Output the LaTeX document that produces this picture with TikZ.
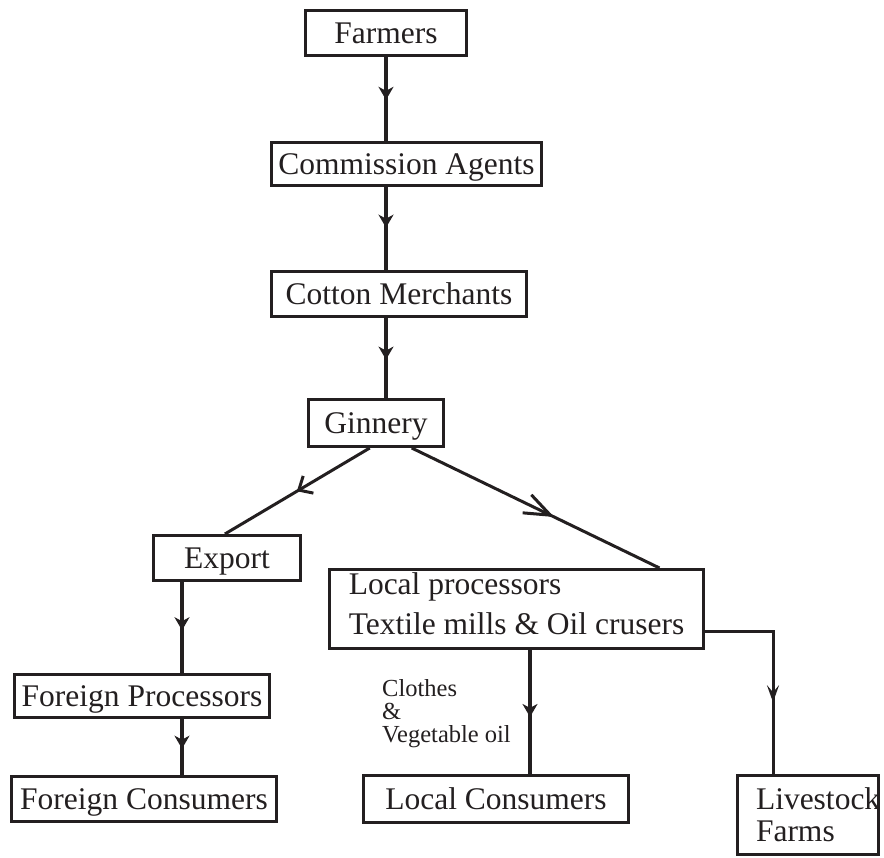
\documentclass[tikz,border=0pt]{standalone}
\usepackage{fontspec}
\setmainfont{Liberation Serif}
\usetikzlibrary{arrows.meta,decorations.markings}
\definecolor{ink}{HTML}{231F20}
\begin{document}
\begin{tikzpicture}[x=1pt,y=-1pt,
  box/.style={draw=ink, line width=3pt, rectangle, inner sep=0pt, text=ink,
              font=\fontsize{31.5}{40}\selectfont},
  onebox/.style={box, text height=21pt, text depth=0pt},
  flow/.style={draw=ink, line width=3.8pt},
  thinflow/.style={draw=ink, line width=3pt},
  tipat/.style={postaction={decorate}, decoration={markings,
      mark=at position #1 with {\arrow[ink]{Stealth[length=13pt,width=15pt,inset=4pt]}}}},
  narrowtipat/.style={postaction={decorate}, decoration={markings,
      mark=at position #1 with {\arrow[ink]{Stealth[length=17pt,width=12pt,inset=7pt]}}}},
  barbat/.style 2 args={postaction={decorate}, decoration={markings,
      mark=at position #1 with {\arrow[ink,line width=3pt]{Straight Barb[length=#2,width=20pt]}}}},
]
\useasboundingbox (0,0) rectangle (884,858);

% supply chain boxes
\node[onebox, minimum width=161pt, minimum height=45pt] (farm) at (386,33) {Farmers};
\node[onebox, minimum width=270pt, minimum height=43pt] (comm) at (406.5,164) {Commission Agents};
\node[onebox, minimum width=255pt, minimum height=45pt] (cot)  at (399,294) {Cotton Merchants};
\node[onebox, minimum width=135pt, minimum height=47pt] (gin)  at (376,423) {Ginnery};
\node[onebox, minimum width=147pt, minimum height=45pt] (exp)  at (227,558) {Export};
\node[box, minimum width=374pt, minimum height=79pt, align=left, text depth=10pt] (lp)
      at (516.5,609) {Local processors\\Textile mills \& Oil crusers};
\node[onebox, minimum width=255pt, minimum height=43pt] (fp)   at (142,696) {Foreign Processors};
\node[onebox, minimum width=265pt, minimum height=45pt] (fc)   at (144,799) {Foreign Consumers};
\node[onebox, minimum width=265pt, minimum height=47pt] (lc)   at (496,799) {Local Consumers};
\node[box, minimum width=141pt, minimum height=79pt, inner xsep=18.5pt,
      text width=104pt, align=left, font=\fontsize{31.5}{32}\selectfont] (live) at (808,815)
      {Livestock\\Farms};

% products label
\node[anchor=north west, inner sep=0pt, align=left, text=ink,
      font=\fontsize{24.5}{23}\selectfont] (goods) at (382,679)
      {Clothes\\\&\\Vegetable oil};

% connectors
\draw[flow, tipat=0.51] (farm.south) -- (farm.south |- comm.north);
\draw[flow, tipat=0.49] (comm.south -| farm.south) -- (cot.north -| farm.south);
\draw[flow, tipat=0.52] (cot.south -| farm.south) -- (gin.north -| farm.south);
\draw[thinflow, barbat={0.503}{11pt}] (gin.256) -- (exp.95);
\draw[thinflow, barbat={0.575}{26pt}] (gin.325) -- (lp.16);
\draw[flow, tipat=0.53] ([xshift=-45pt]exp.south) -- ([xshift=40pt]fp.north);
\draw[flow, tipat=0.53] ([xshift=40pt]fp.south) -- ([xshift=38pt]fc.north);
\draw[flow, tipat=0.54] ([xshift=13.5pt]lp.south) -- ([xshift=34pt]lc.north);
\draw[thinflow, narrowtipat=0.66] ([yshift=-22pt]lp.east) -| ([xshift=-35pt]live.north);
\end{tikzpicture}
\end{document}
